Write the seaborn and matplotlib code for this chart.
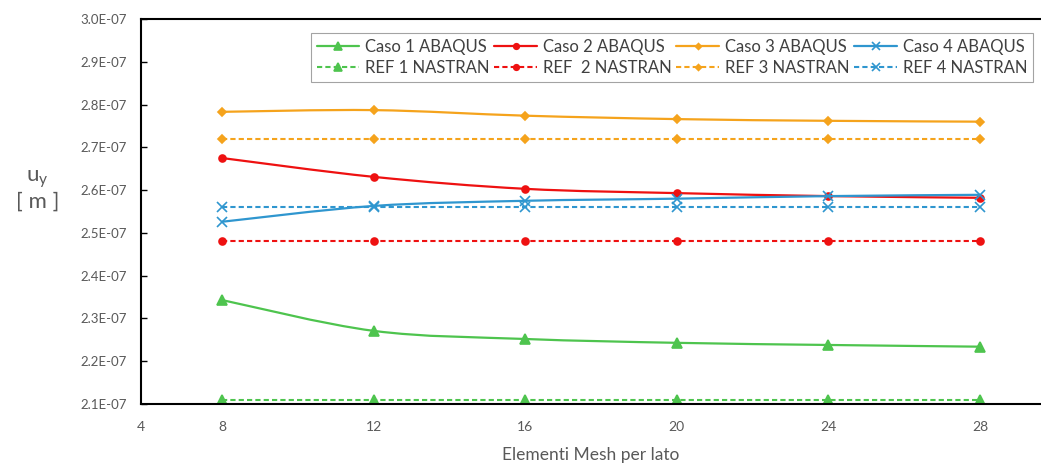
import numpy as np
import pandas as pd
import seaborn as sns
import matplotlib
matplotlib.use("Agg")
import matplotlib.pyplot as plt
from matplotlib.path import Path
from matplotlib.patches import PathPatch
from matplotlib.lines import Line2D
from matplotlib.ticker import FuncFormatter, MultipleLocator

# Mesh refinement (elements per side)
mesh = [8, 12, 16, 20, 24, 28]

# Vertical displacement u_y [m], ABAQUS results
caso1_abaqus = [2.343e-07, 2.271e-07, 2.252e-07, 2.243e-07, 2.238e-07, 2.234e-07]
caso2_abaqus = [2.675e-07, 2.631e-07, 2.603e-07, 2.593e-07, 2.586e-07, 2.582e-07]
caso3_abaqus = [2.783e-07, 2.787e-07, 2.774e-07, 2.766e-07, 2.762e-07, 2.760e-07]
caso4_abaqus = [2.526e-07, 2.563e-07, 2.575e-07, 2.580e-07, 2.586e-07, 2.589e-07]

# NASTRAN reference values
ref1_nastran = [2.11e-07] * 6
ref2_nastran = [2.48e-07] * 6
ref3_nastran = [2.72e-07] * 6
ref4_nastran = [2.56e-07] * 6

abaqus_names = ["Caso 1 ABAQUS", "Caso 2 ABAQUS", "Caso 3 ABAQUS", "Caso 4 ABAQUS"]
nastran_names = ["REF 1 NASTRAN", "REF  2 NASTRAN", "REF 3 NASTRAN", "REF 4 NASTRAN"]

x_tick_labels = ["4", "8", "12", "16", "20", "24", "28"]
x_title = "Elementi Mesh per lato"
y_title = "u$_\\mathregular{y}$\n[ m ]"

colors = ["#4EC44E", "#EE1111", "#F5A31C", "#2F96CF"]
markers = ["^", "o", "D", "x"]
msizes = [6.5, 5, 4, 6.5]

sns.set_theme(style="white")
plt.rcParams["font.family"] = ["Lato", "DejaVu Sans"]

fig = plt.figure(figsize=(10.41, 4.63), dpi=100)
ax = fig.add_axes([141 / 1041, 1 - 404 / 463, 1 - 141 / 1041, (404 - 19) / 463])

abaqus = [caso1_abaqus, caso2_abaqus, caso3_abaqus, caso4_abaqus]
nastran = [ref1_nastran, ref2_nastran, ref3_nastran, ref4_nastran]

frames = []
for name, vals in zip(abaqus_names + nastran_names, abaqus + nastran):
    frames.append(pd.DataFrame({"mesh": mesh, "uy": vals, "serie": name}))
df = pd.concat(frames, ignore_index=True)


def smooth_path(xs, ys, tension=1 / 6):
    """Cubic Bezier path through the points (Catmull-Rom style smoothing)."""
    pts = np.column_stack([xs, ys])
    verts = [pts[0]]
    codes = [Path.MOVETO]
    n = len(pts)
    for i in range(n - 1):
        p0 = pts[max(i - 1, 0)]
        p1 = pts[i]
        p2 = pts[i + 1]
        p3 = pts[min(i + 2, n - 1)]
        c1 = p1 + (p2 - p0) * tension
        c2 = p2 - (p3 - p1) * tension
        verts += [c1, c2, p2]
        codes += [Path.CURVE4] * 3
    return Path(verts, codes)


for i in range(4):
    # ABAQUS: smoothed solid line with markers
    sub = df[df["serie"] == abaqus_names[i]]
    sns.lineplot(data=sub, x="mesh", y="uy", ax=ax, color=colors[i],
                 marker=markers[i], markersize=msizes[i], linestyle="none",
                 markeredgecolor=colors[i], markeredgewidth=1.2,
                 legend=False, errorbar=None)
    ax.add_patch(PathPatch(smooth_path(sub["mesh"].to_numpy(float), sub["uy"].to_numpy(float)),
                           facecolor="none", edgecolor=colors[i], lw=1.6, zorder=2))
    # NASTRAN: dashed reference line with markers
    subr = df[df["serie"] == nastran_names[i]]
    sns.lineplot(data=subr, x="mesh", y="uy", ax=ax, color=colors[i],
                 marker=markers[i], markersize=msizes[i], linestyle=(0, (2.5, 1.5)),
                 linewidth=1.5, markeredgecolor=colors[i], markeredgewidth=1.2,
                 legend=False, errorbar=None)

handles = []
labels = []
for i in range(4):
    handles.append(Line2D([], [], color=colors[i], lw=1.6, marker=markers[i],
                          markersize=msizes[i] - 1, markeredgewidth=1.2))
    handles.append(Line2D([], [], color=colors[i], lw=1.5, ls=(0, (2.5, 1.5)),
                          marker=markers[i], markersize=msizes[i] - 1, markeredgewidth=1.2))
    labels += [abaqus_names[i], nastran_names[i]]

leg = ax.legend(handles, labels, ncol=4, loc="upper right",
                bbox_to_anchor=((1033 - 141) / 900, (404 - 33) / 385),
                borderaxespad=0, frameon=True, fancybox=False, fontsize=12,
                handlelength=2.55, handletextpad=0.35, columnspacing=0.3,
                labelspacing=0.3, borderpad=0.35, labelcolor="#404040")
leg.get_frame().set_edgecolor("#8C8C8C")
leg.get_frame().set_linewidth(0.8)

# Axes scales
x_left = mesh[0] - 81 / 37.9
x_right = mesh[-1] + 61 / 37.9
ax.set_xlim(x_left, x_right)
ax.set_ylim(2.1e-07, 3.0e-07)
ax.set_xticks([x_left] + mesh)
ax.set_xticklabels(x_tick_labels)
ax.yaxis.set_major_locator(MultipleLocator(1e-08))
ax.yaxis.set_major_formatter(FuncFormatter(lambda v, p: f"{v:.1E}"))

ax.tick_params(axis="y", direction="in", length=4, width=1, color="black",
               labelsize=9.5, labelcolor="#595959", pad=10, left=True)
ax.tick_params(axis="x", length=0, labelsize=10, labelcolor="#595959", pad=12)

for side in ["left", "bottom", "top"]:
    ax.spines[side].set_color("black")
    ax.spines[side].set_linewidth(1.5)
ax.spines["right"].set_visible(False)

ax.set_xlabel(x_title, fontsize=12.5, color="#595959", labelpad=10)
ax.set_ylabel(y_title, fontsize=16, color="#595959", rotation=0,
              labelpad=0, linespacing=1.1)
ax.yaxis.set_label_coords(-0.115, 0.5)

fig.savefig("out.png", dpi=100)
